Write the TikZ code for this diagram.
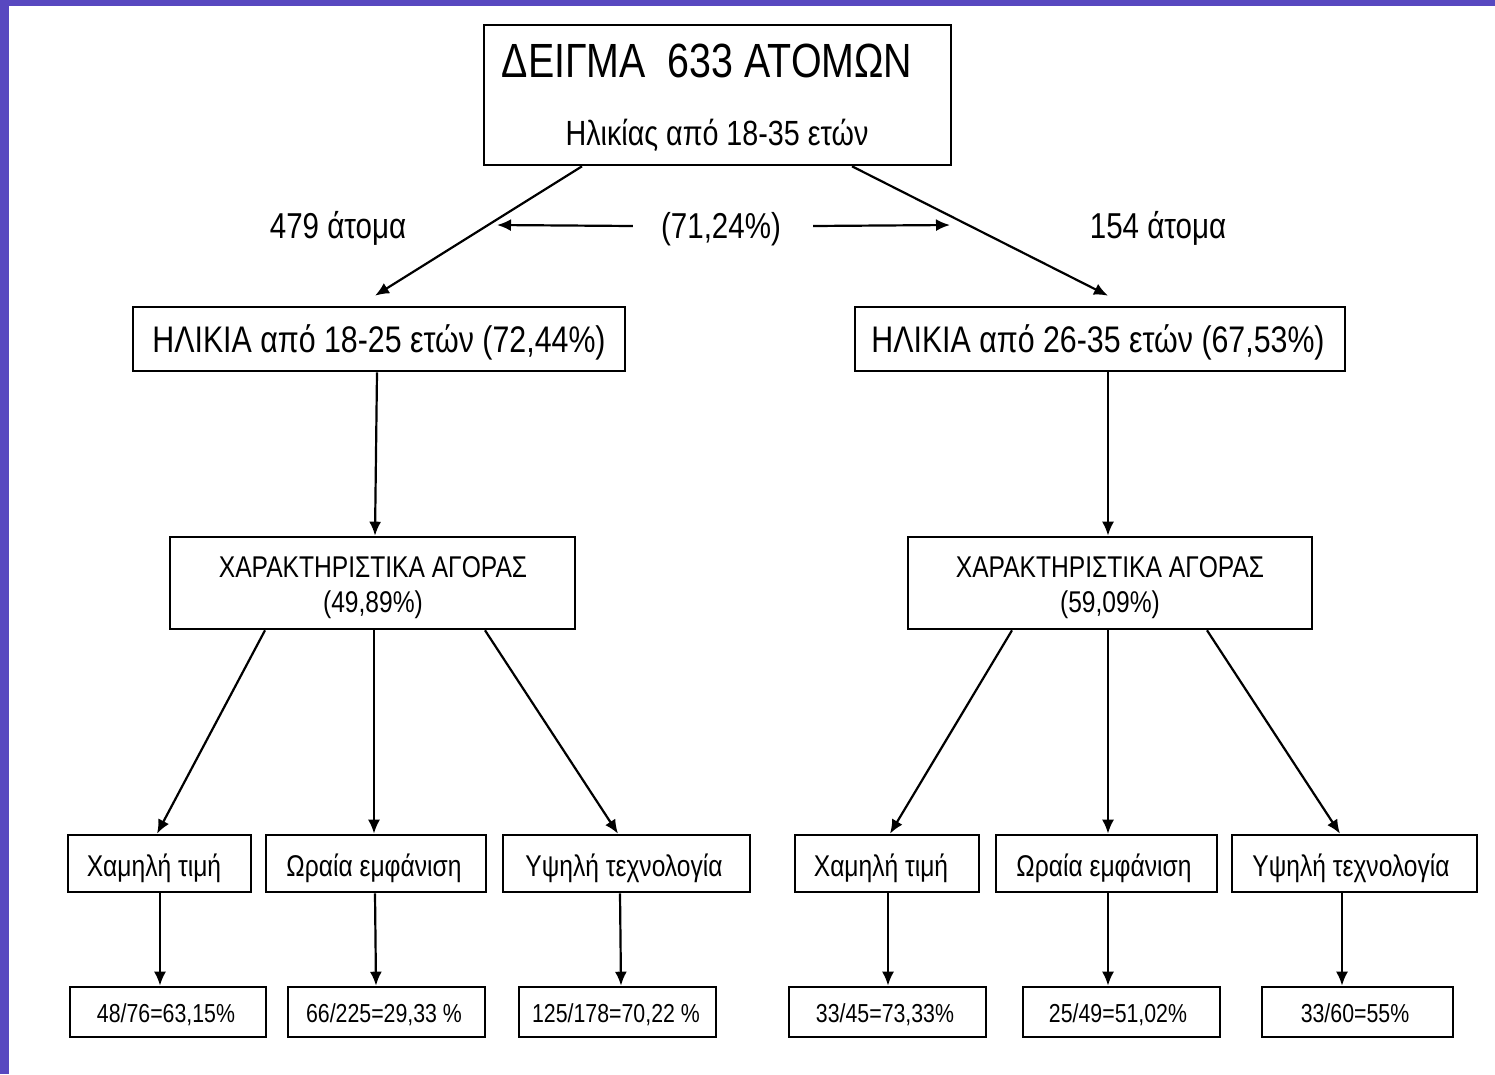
\documentclass[tikz,border=0pt]{standalone}
\usepackage{fontspec}
\setmainfont{Liberation Sans}[FakeStretch=0.82]
\usetikzlibrary{arrows.meta}
\definecolor{frame}{RGB}{88,72,192}
\begin{document}
\begin{tikzpicture}[x=1pt,y=-1pt,
  box/.style={draw=black,line width=2.6pt,inner sep=0pt,fill=white},
  txt/.style={inner sep=0pt,anchor=base},
  arr/.style={line width=2.2pt,-{Latex[length=14pt,width=12pt]}},
  fa/.style={font=\fontsize{48}{56}\selectfont},
  fb/.style={font=\fontsize{35}{42}\selectfont},
  fc/.style={font=\fontsize{36}{42}\selectfont},
  fd/.style={font=\fontsize{37}{44}\selectfont},
  fe/.style={font=\fontsize{30}{36}\selectfont},
  ff/.style={font=\fontsize{30}{36}\selectfont},
  fg/.style={font=\fontsize{26}{30}\selectfont}]
\useasboundingbox (0,0) rectangle (1495,1074);
\fill[white] (0,0) rectangle (1495,1074);
\fill[frame] (0,0) rectangle (9,1074);
\fill[frame] (0,0) rectangle (1495,6);

% top box
\node[box,minimum width=467pt,minimum height=140pt] (top) at (717.5,95) {};
\node[txt,fa] (topa) at (707,77) {ΔΕΙΓΜΑ\ \ 633 ΑΤΟΜΩΝ};
\node[txt,fb] (topb) at (717,145) {Ηλικίας από 18-35 ετών};

% labels
\node[txt,fc] (na) at (338,238) {479 άτομα};
\node[txt,fc] (pct) at (721,238) {(71,24\%)};
\node[txt,fc] (nb) at (1158,238) {154 άτομα};
\coordinate (la) at (497,225);
\coordinate (ra) at (950,225);
\draw[arr] ([xshift=-28pt,yshift=12pt]pct.base west) -- (la);
\draw[arr] ([xshift=32pt,yshift=12pt]pct.base east) -- (ra);

% level 2
\node[box,minimum width=492pt,minimum height=64pt] (l2a) at (379,339) {};
\node[txt,fd] (l2at) at (379,352) {ΗΛΙΚΙΑ από 18-25 ετών (72,44\%)};
\node[box,minimum width=490pt,minimum height=64pt] (l2b) at (1100,339) {};
\node[txt,fd] (l2bt) at (1098,352) {ΗΛΙΚΙΑ από 26-35 ετών (67,53\%)};

\draw[arr] ([xshift=-135.5pt]top.south) -- ([xshift=-4pt,yshift=10pt]l2a.north);
\draw[arr] ([xshift=134.5pt]top.south) -- ([xshift=8pt,yshift=10pt]l2b.north);

% level 3 (market)
\node[box,minimum width=405pt,minimum height=92pt] (m3a) at (372.5,583) {};
\node[txt,fe] (m3at) at (373,577) {ΧΑΡΑΚΤΗΡΙΣΤΙΚΑ ΑΓΟΡΑΣ};
\node[txt,fe] (m3au) at (373,612) {(49,89\%)};
\node[box,minimum width=404pt,minimum height=92pt] (m3b) at (1110,583) {};
\node[txt,fe] (m3bt) at (1110,577) {ΧΑΡΑΚΤΗΡΙΣΤΙΚΑ ΑΓΟΡΑΣ};
\node[txt,fe] (m3bu) at (1110,612) {(59,09\%)};

\draw[arr] ([xshift=-2pt]l2a.south) -- ([xshift=2.5pt]m3a.north);
\draw[arr] ([xshift=8pt]l2b.south) -- ([xshift=-2pt]m3b.north);

% level 4
\node[box,minimum width=183pt,minimum height=57pt] (a1) at (159.5,863.5) {};
\node[box,minimum width=220pt,minimum height=57pt] (a2) at (376,863.5) {};
\node[box,minimum width=247pt,minimum height=57pt] (a3) at (626.5,863.5) {};
\node[box,minimum width=184pt,minimum height=57pt] (b1) at (887,863.5) {};
\node[box,minimum width=221pt,minimum height=57pt] (b2) at (1106.5,863.5) {};
\node[box,minimum width=245pt,minimum height=57pt] (b3) at (1354.5,863.5) {};
\node[txt,ff] (a1t) at (154,876) {Χαμηλή τιμή};
\node[txt,ff] (a2t) at (374,876) {Ωραία εμφάνιση};
\node[txt,ff] (a3t) at (624,876) {Υψηλή τεχνολογία};
\node[txt,ff] (b1t) at (881,876) {Χαμηλή τιμή};
\node[txt,ff] (b2t) at (1104,876) {Ωραία εμφάνιση};
\node[txt,ff] (b3t) at (1351,876) {Υψηλή τεχνολογία};

\draw[arr] ([xshift=-107.5pt]m3a.south) -- ([xshift=-2.5pt]a1.north);
\draw[arr] ([xshift=1.5pt]m3a.south) -- ([xshift=-2pt]a2.north);
\draw[arr] ([xshift=112.5pt]m3a.south) -- ([xshift=-8.5pt]a3.north);
\draw[arr] ([xshift=-98pt]m3b.south) -- ([xshift=3pt]b1.north);
\draw[arr] ([xshift=-2pt]m3b.south) -- ([xshift=1.5pt]b2.north);
\draw[arr] ([xshift=97pt]m3b.south) -- ([xshift=-14.5pt]b3.north);

% level 5
\node[box,minimum width=196pt,minimum height=50pt] (c1) at (168,1012) {};
\node[box,minimum width=197pt,minimum height=50pt] (c2) at (386.5,1012) {};
\node[box,minimum width=197pt,minimum height=50pt] (c3) at (617.5,1012) {};
\node[box,minimum width=197pt,minimum height=50pt] (d1) at (887.5,1012) {};
\node[box,minimum width=197pt,minimum height=50pt] (d2) at (1121.5,1012) {};
\node[box,minimum width=191pt,minimum height=50pt] (d3) at (1357.5,1012) {};
\node[txt,fg] (c1t) at (166,1022) {48/76=63,15\%};
\node[txt,fg] (c2t) at (384,1022) {66/225=29,33 \%};
\node[txt,fg] (c3t) at (616,1022) {125/178=70,22 \%};
\node[txt,fg] (d1t) at (885,1022) {33/45=73,33\%};
\node[txt,fg] (d2t) at (1118,1022) {25/49=51,02\%};
\node[txt,fg] (d3t) at (1355,1022) {33/60=55\%};

\draw[arr] ([xshift=0.5pt]a1.south) -- ([xshift=-8pt]c1.north);
\draw[arr] ([xshift=-1pt]a2.south) -- ([xshift=-10.5pt]c2.north);
\draw[arr] ([xshift=-6.5pt]a3.south) -- ([xshift=3.5pt]c3.north);
\draw[arr] ([xshift=1pt]b1.south) -- ([xshift=0.5pt]d1.north);
\draw[arr] ([xshift=1.5pt]b2.south) -- ([xshift=-13.5pt]d2.north);
\draw[arr] ([xshift=-12.5pt]b3.south) -- ([xshift=-15.5pt]d3.north);
\end{tikzpicture}
\end{document}
